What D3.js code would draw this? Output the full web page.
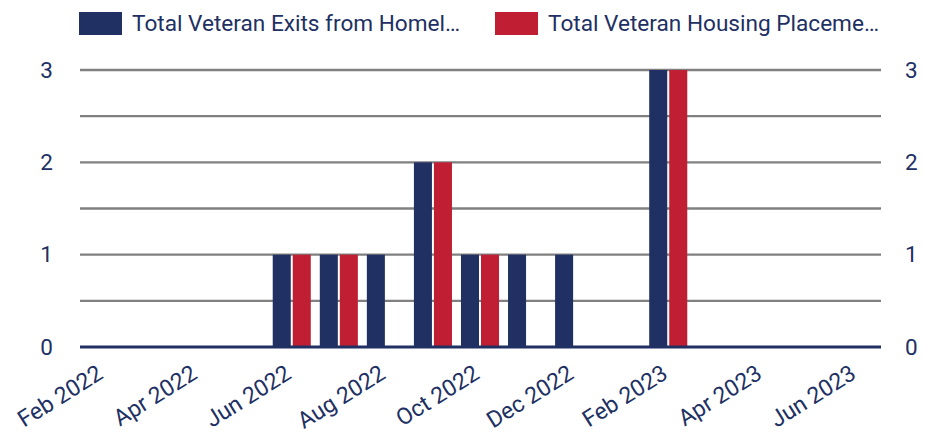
<!DOCTYPE html>
<html><head><meta charset="utf-8">
<script src="https://cdn.jsdelivr.net/npm/d3@7"></script>
<style>body{margin:0;background:#fff;} svg{display:block;font-family:Roboto,"Noto Sans",sans-serif;}</style>
</head><body><svg id="c" width="925" height="433"></svg>
<script>
const months = ["Feb 2022","Mar 2022","Apr 2022","May 2022","Jun 2022","Jul 2022","Aug 2022","Sep 2022","Oct 2022","Nov 2022","Dec 2022","Jan 2023","Feb 2023","Mar 2023","Apr 2023","May 2023","Jun 2023"];
const tickLabels = ["Feb 2022","Apr 2022","Jun 2022","Aug 2022","Oct 2022","Dec 2022","Feb 2023","Apr 2023","Jun 2023"];
const exits =      [0,0,0,0,1,1,1,2,1,1,1,0,3,0,0,0,0];
const placements = [0,0,0,0,1,1,0,2,1,0,0,0,3,0,0,0,0];
const seriesNames = ["Total Veteran Exits from Homel…","Total Veteran Housing Placeme…"];
const yTicks = [0,1,2,3];
const gridValues = [0.5,1,1.5,2,2.5,3];

const navy = "#213063", red = "#C01F33", grid = "#808080", textCol = "#213063";
const svg = d3.select("#c");
const L = 80, R = 880, T = 70, B = 347;

const x = d3.scaleBand().domain(months).range([L, R]).padding(0);
const bw = x.bandwidth();
const x1 = d3.scaleBand().domain([0,1]).range([4.5, bw - 4.5]).paddingInner(0.1);
const y = d3.scaleLinear().domain([0,3]).range([B, T]);

// gridlines
svg.append("g").selectAll("line").data(gridValues).join("line")
  .attr("x1", L).attr("x2", R + 1)
  .attr("y1", d => y(d)).attr("y2", d => y(d))
  .attr("stroke", grid).attr("stroke-width", 2.4);

// bars
const series = [exits, placements];
const colors = [navy, red];
series.forEach((vals, si) => {
  svg.append("g").selectAll("rect").data(months.map((m,i)=>({m, v: vals[i]})).filter(d => d.v > 0)).join("rect")
    .attr("x", d => x(d.m) + x1(si))
    .attr("width", x1.bandwidth())
    .attr("y", d => y(d.v))
    .attr("height", d => y(0) - y(d.v))
    .attr("fill", colors[si]);
});

// baseline
svg.append("line").attr("x1", L).attr("x2", R + 1).attr("y1", B).attr("y2", B)
  .attr("stroke", navy).attr("stroke-width", 3);

// y axes labels
const leftAxis = d3.axisLeft(y).tickValues(yTicks).tickSize(0).tickPadding(0).tickFormat(d3.format("d"));
const gl = svg.append("g").attr("transform", `translate(53,0)`).call(leftAxis);
const rightAxis = d3.axisRight(y).tickValues(yTicks).tickSize(0).tickPadding(0).tickFormat(d3.format("d"));
const gr = svg.append("g").attr("transform", `translate(905,0)`).call(rightAxis);
[gl, gr].forEach(g => {
  g.select(".domain").remove();
  g.selectAll("text").attr("fill", textCol).attr("font-size", 22.5).attr("font-family", "Roboto, sans-serif");
});

// x axis labels
const xAxis = d3.axisBottom(x).tickValues(tickLabels).tickSize(0).tickPadding(0);
const gx = svg.append("g").attr("transform", `translate(0,${B})`).call(xAxis);
gx.select(".domain").remove();
gx.selectAll("text")
  .attr("fill", textCol).attr("font-size", 23).attr("font-family", "Roboto, sans-serif")
  .attr("text-anchor", "end").attr("dy", null)
  .attr("transform", "translate(1,30.5) rotate(-32)");

// legend
const legX = [79, 495];
seriesNames.forEach((n, i) => {
  const g = svg.append("g").attr("transform", `translate(${legX[i]},12)`);
  g.append("rect").attr("width", 43).attr("height", 23).attr("fill", colors[i]);
  g.append("text").attr("x", 53).attr("y", 19).attr("fill", textCol)
    .attr("font-size", 22.6).attr("font-family", "Roboto, sans-serif").text(n);
});
</script></body></html>
